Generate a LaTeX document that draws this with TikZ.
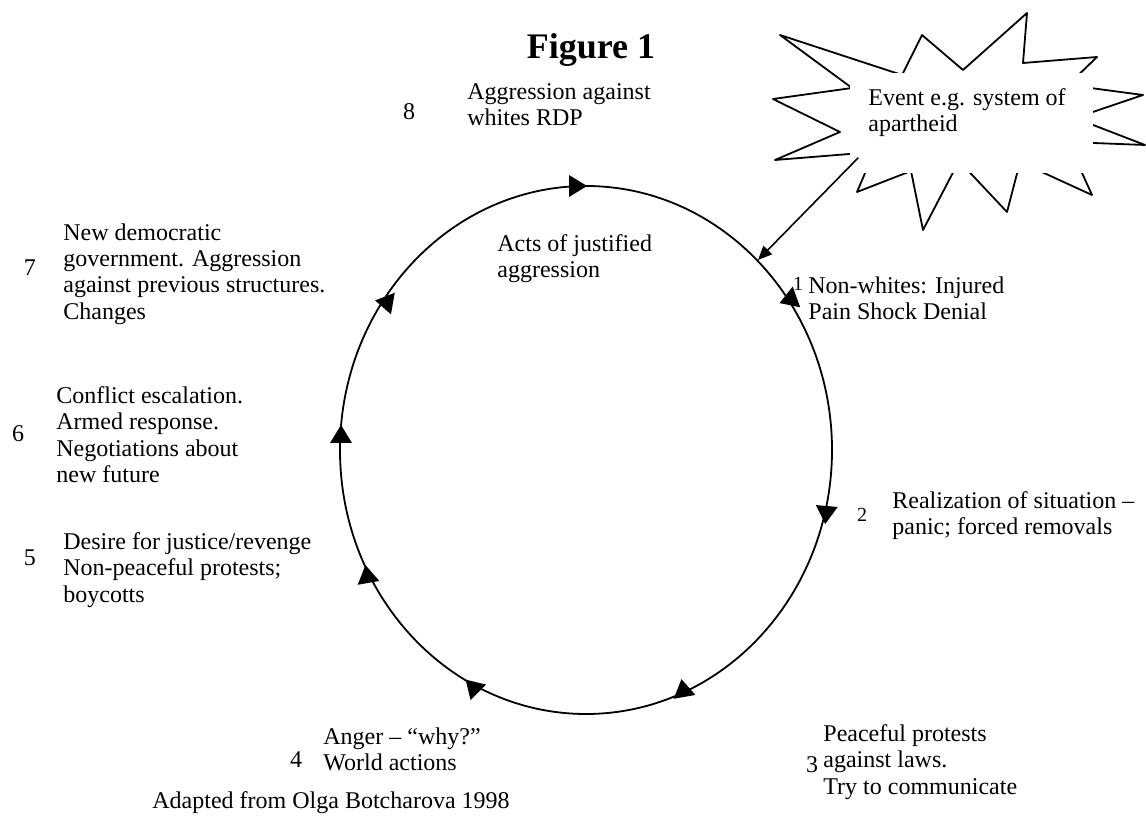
\documentclass[tikz,border=0pt]{standalone}
\usepackage{fontspec}
\setmainfont{Liberation Serif}
\usetikzlibrary{arrows.meta}
\begin{document}
\begin{tikzpicture}[x=.5pt, y=-.5pt, font=\fontsize{12}{13.2}\selectfont, line join=round, line cap=round, >={Triangle[length=7pt,width=6pt]},
	txt/.style={inner sep=0pt, anchor=north west, align=left},
	num/.style={inner sep=0pt}]
	\useasboundingbox (0,0) rectangle (1146,823);
	\node[font=\bfseries\fontsize{18}{20}\selectfont] (title) at (591,50) {Figure 1};
	\draw[line width=.9pt] (586,450) ellipse [x radius=123pt, y radius=132pt];
	\foreach \px/\py/\a in {578/186/0, 384/302/170, 788/300/200, 826/515/265, 683/688/100, 472/686/135, 367/574/100, 341/434/90}
		\fill[shift={(\px,\py)}, rotate=\a] (9,0)--(-9,11)--(-9,-11)--cycle;
	\draw[line width=.9pt] (780,35)--(902,75)--(922,35)--(963,70)--(1027,13)--(1023,63)--(1097,57)--(1068,85)--(1143,95)--(1075,118)--(1145,145)--(1068,142)--(1092,195)--(1020,162)--(1007,212)--(959,161)--(923,230)--(911,171)--(857,192)--(874,152)--(775,160)--(840,132)--(773,99)--(852,88)--cycle;
	\node[fill=white, minimum width=121.5pt, minimum height=50pt, inner sep=0pt] (evbox) at (971.5,123) {};
	\node[txt] (ev) at (868,88) {Event e.g. system of\\apartheid};
	\coordinate (evfoot) at (858,158);
	\coordinate (hit) at (758,260);
	\draw[->, line width=.8pt] (evfoot)--(hit);
	\node[num] (n8) at (409,112) {8};
	\node[txt] (l8) at (467,83) {Aggression against\\whites RDP};
	\node[txt] (lc) at (497,234) {Acts of justified\\aggression};
	\node[num, font=\fontsize{10}{12}\selectfont] (n1) at (798,284) {1};
	\node[txt] (l1) at (808,276) {Non-whites: Injured\\Pain Shock Denial};
	\node[num, font=\fontsize{10}{12}\selectfont] (n2) at (862,515) {2};
	\node[txt] (l2) at (892,491) {Realization of situation –\\panic; forced removals};
	\node[num] (n3) at (812,765) {3};
	\node[txt] (l3) at (823,724) {Peaceful protests\\against laws.\\Try to communicate};
	\node[num] (n4) at (296,760) {4};
	\node[txt] (l4) at (323,727) {Anger – “why?”\\World actions};
	\node[num] (n5) at (30,558) {5};
	\node[txt] (l5) at (63,532) {Desire for justice/revenge\\Non-peaceful protests;\\boycotts};
	\node[num] (n6) at (18,434) {6};
	\node[txt] (l6) at (56,386) {Conflict escalation.\\Armed response.\\Negotiations about\\new future};
	\node[num] (n7) at (30,268) {7};
	\node[txt] (l7) at (63,223) {New democratic\\government. Aggression\\against previous structures.\\Changes};
	\node[txt] (src) at (152,791) {Adapted from Olga Botcharova 1998};
\end{tikzpicture}
\end{document}
